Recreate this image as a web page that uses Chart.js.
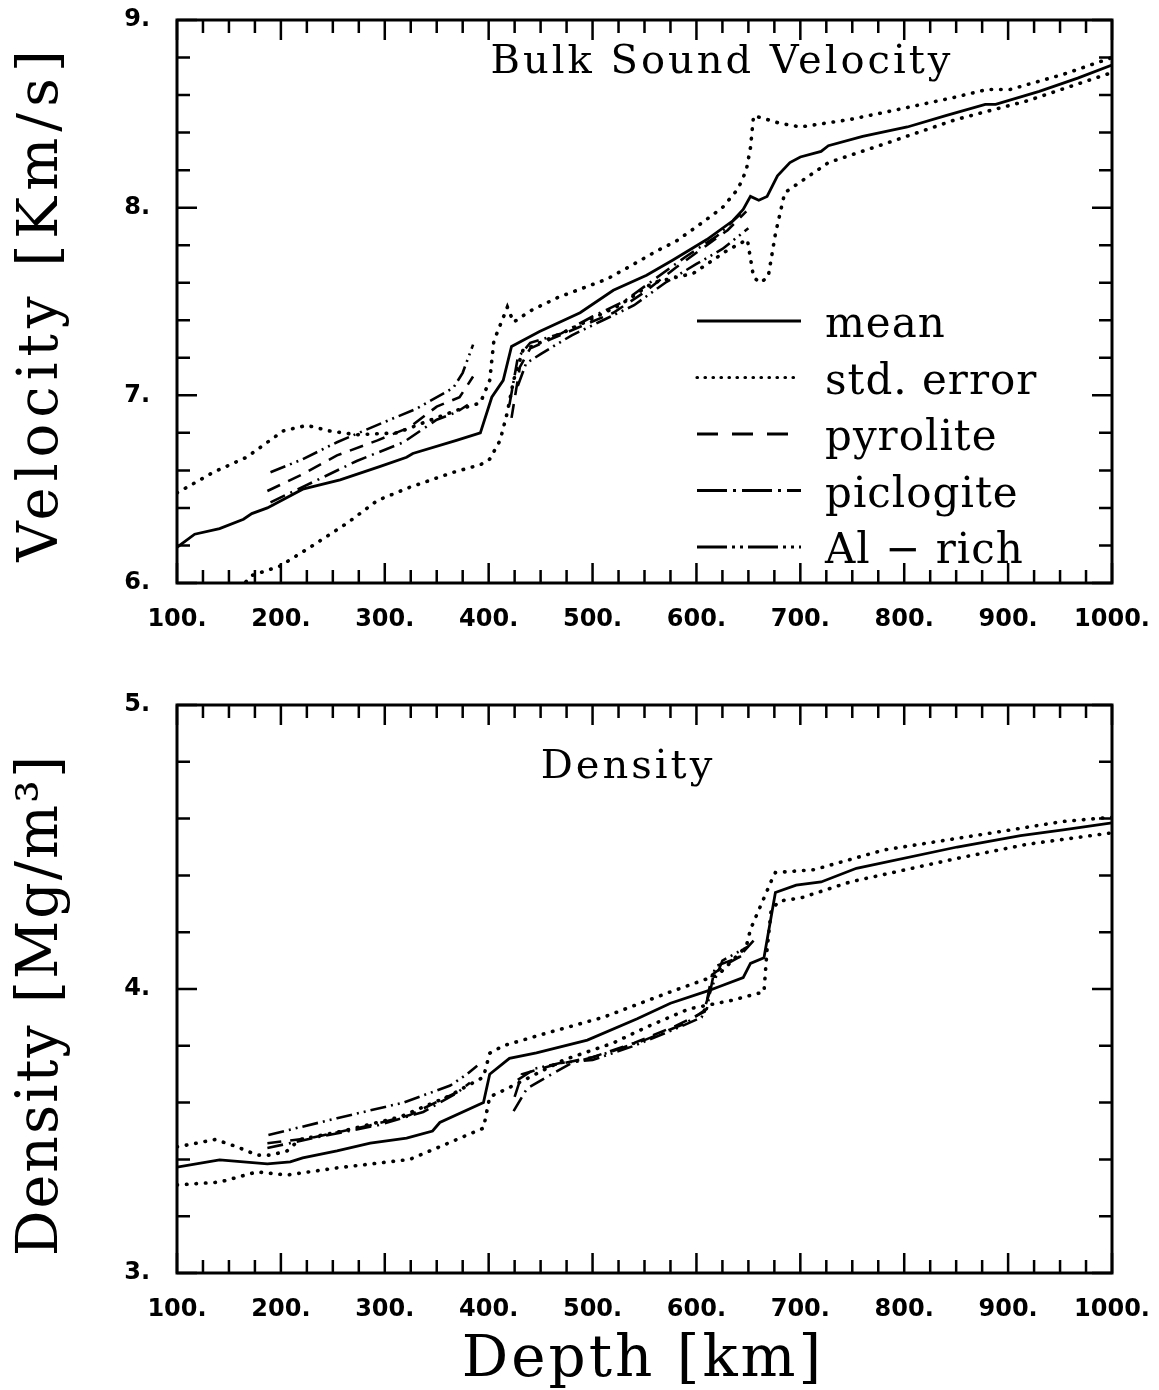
<!DOCTYPE html>
<html>
<head>
<meta charset="utf-8">
<title>Bulk sound velocity and density</title>
<script src="https://cdn.jsdelivr.net/npm/chart.js@4.4.1/dist/chart.umd.min.js"></script>
<style>
    body { margin: 0; background: #fff; }
    #wrap { position: relative; width: 1159px; height: 1390px; }
    canvas { position: absolute; left: 0; }
</style>
</head>
<body>
<div id="wrap">
    <canvas id="velocity-chart" width="1159" height="690" style="top:0"></canvas>
    <canvas id="density-chart" width="1159" height="700" style="top:690px"></canvas>
</div>
<script>
// ---- tick labels ----
const depthTicks = [100, 200, 300, 400, 500, 600, 700, 800, 900, 1000];
const velocityTicks = [6, 7, 8, 9];
const densityTicks = [3, 4, 5];
const depthMinorStep = 25;
const valueMinorStep = 0.2;

// ---- bulk sound velocity [km/s] vs depth [km] ----
const velMeanDepth = [100, 117, 141, 164, 172, 187, 221, 257, 295, 321, 327, 369, 392, 403, 414, 422, 449, 488, 520, 552, 577, 610, 635, 645, 652, 660, 668, 678, 690, 700, 720, 727, 760, 803, 840, 878, 888, 930, 967, 1000];
const velMean      = [6.19, 6.26, 6.29, 6.34, 6.37, 6.40, 6.50, 6.55, 6.62, 6.67, 6.69, 6.76, 6.80, 6.99, 7.08, 7.26, 7.34, 7.44, 7.56, 7.64, 7.72, 7.83, 7.93, 7.99, 8.06, 8.04, 8.06, 8.17, 8.24, 8.27, 8.30, 8.33, 8.38, 8.43, 8.49, 8.55, 8.55, 8.62, 8.69, 8.76];

const velUpperDepth = [100, 135, 167, 202, 225, 247, 273, 312, 340, 369, 392, 401, 405, 418, 424, 440, 466, 490, 514, 540, 562, 580, 603, 625, 640, 648, 652, 655, 668, 680, 700, 748, 800, 850, 880, 902, 953, 1000];
const velUpper      = [6.48, 6.59, 6.67, 6.81, 6.84, 6.81, 6.79, 6.80, 6.86, 6.92, 6.96, 7.08, 7.29, 7.47, 7.39, 7.45, 7.52, 7.57, 7.62, 7.70, 7.77, 7.82, 7.91, 8.00, 8.10, 8.20, 8.32, 8.49, 8.47, 8.45, 8.43, 8.47, 8.53, 8.59, 8.63, 8.63, 8.71, 8.80];

const velLowerDepth = [160, 172, 199, 228, 264, 293, 324, 366, 392, 401, 411, 418, 424, 433, 478, 526, 558, 597, 629, 649, 655, 661, 669, 676, 685, 706, 727, 781, 850, 919, 1000];
const velLower      = [5.97, 6.04, 6.09, 6.19, 6.32, 6.44, 6.51, 6.59, 6.63, 6.66, 6.76, 6.91, 7.08, 7.24, 7.35, 7.48, 7.60, 7.65, 7.77, 7.83, 7.63, 7.60, 7.63, 7.86, 8.08, 8.16, 8.24, 8.34, 8.47, 8.57, 8.72];

const velPyroliteDepth = [187, 221, 254, 293, 324, 350, 372, 385, 400, 422, 430, 440, 460, 490, 520, 550, 580, 610, 630, 648];
const velPyrolite      = [6.49, 6.58, 6.68, 6.76, 6.83, 6.94, 6.99, 7.10, null, 6.88, 7.15, 7.25, 7.30, 7.37, 7.44, 7.55, 7.68, 7.80, 7.88, 7.98];

const velPiclogiteDepth = [190, 228, 273, 318, 350, 369, 380, 400, 420, 428, 440, 470, 500, 530, 560, 590, 620, 645];
const velPiclogite      = [6.43, 6.53, 6.65, 6.75, 6.87, 6.91, 6.95, null, 6.95, 7.20, 7.28, 7.33, 7.42, 7.50, 7.62, 7.74, 7.85, 7.98];

const velAlRichDepth = [190, 221, 254, 292, 331, 366, 375, 385, 400, 428, 436, 450, 480, 510, 540, 570, 600, 625, 650];
const velAlRich      = [6.59, 6.66, 6.75, 6.84, 6.93, 7.04, 7.12, 7.27, null, 7.05, 7.17, 7.22, 7.32, 7.40, 7.48, 7.60, 7.70, 7.78, 7.89];

// ---- density [Mg/m^3] vs depth [km] ----
const denMeanDepth = [100, 141, 187, 209, 221, 254, 286, 321, 346, 353, 395, 401, 420, 446, 495, 543, 575, 613, 621, 645, 652, 665, 676, 696, 720, 754, 851, 912, 953, 1000];
const denMean      = [3.373, 3.398, 3.384, 3.391, 3.405, 3.43, 3.457, 3.475, 3.50, 3.53, 3.60, 3.70, 3.756, 3.775, 3.82, 3.895, 3.95, 3.996, 4.007, 4.04, 4.09, 4.11, 4.34, 4.366, 4.377, 4.425, 4.50, 4.54, 4.56, 4.585];

const denUpperDepth = [100, 137, 158, 177, 190, 206, 218, 260, 315, 360, 395, 401, 414, 456, 510, 575, 621, 648, 652, 672, 676, 713, 781, 885, 953, 1000];
const denUpper      = [3.444, 3.47, 3.444, 3.415, 3.415, 3.43, 3.47, 3.50, 3.55, 3.62, 3.69, 3.774, 3.80, 3.845, 3.90, 3.99, 4.05, 4.15, 4.21, 4.38, 4.41, 4.42, 4.49, 4.55, 4.59, 4.605];

const denLowerDepth = [100, 141, 177, 206, 254, 324, 350, 395, 401, 421, 472, 520, 552, 593, 634, 665, 668, 672, 680, 700, 748, 851, 919, 1000];
const denLower      = [3.31, 3.32, 3.356, 3.345, 3.37, 3.40, 3.44, 3.51, 3.62, 3.655, 3.75, 3.81, 3.866, 3.93, 3.96, 3.99, 4.14, 4.28, 4.31, 4.32, 4.377, 4.46, 4.51, 4.55];

const denPyroliteDepth = [187, 228, 286, 324, 360, 375, 400, 425, 432, 460, 500, 540, 580, 608, 615, 630, 650];
const denPyrolite      = [3.457, 3.475, 3.52, 3.556, 3.62, 3.645, null, 3.62, 3.70, 3.73, 3.76, 3.81, 3.87, 3.92, 4.05, 4.09, 4.13];

const denPiclogiteDepth = [187, 231, 293, 337, 369, 382, 400, 424, 437, 456, 480, 510, 550, 590, 610, 618, 640, 655];
const denPiclogite      = [3.44, 3.475, 3.52, 3.567, 3.633, 3.67, null, 3.57, 3.65, 3.69, 3.74, 3.77, 3.82, 3.88, 3.93, 4.08, 4.11, 4.17];

const denAlRichDepth = [188, 254, 318, 363, 379, 389, 400, 428, 445, 470, 500, 540, 580, 605, 612, 625, 650];
const denAlRich      = [3.486, 3.545, 3.60, 3.66, 3.70, 3.73, null, 3.68, 3.72, 3.74, 3.75, 3.80, 3.86, 3.90, 3.98, 4.10, 4.15];

// ---- line styles for the curves ----
const lineStyles = {
    mean:      { borderWidth: 2.8, borderDash: [] },
    stdError:  { borderWidth: 3.6, borderDash: [0.5, 9], borderCapStyle: 'round' },
    pyrolite:  { borderWidth: 2.6, borderDash: [14, 9] },
    piclogite: { borderWidth: 2.6, borderDash: [16, 6, 2, 6] },
    alRich:    { borderWidth: 2.6, borderDash: [16, 5, 2, 5, 2, 5] }
};

// legend samples are drawn with slightly longer dashes, as in the original
const legendRows = [
    { text: 'mean',         width: 2.8, dash: [],                     cap: 'butt',  end: 801 },
    { text: 'std. error',   width: 3.2, dash: [0.5, 7.5],             cap: 'round', end: 797 },
    { text: 'pyrolite',     width: 2.8, dash: [21, 14],               cap: 'butt',  end: 788 },
    { text: 'piclogite',    width: 2.8, dash: [30, 6, 3, 6],          cap: 'butt',  end: 801 },
    { text: 'Al \u2212 rich', width: 2.8, dash: [30, 5, 3, 5, 3, 5],  cap: 'butt',  end: 801 }
];

const SERIF = '"DejaVu Serif", "Liberation Serif", serif';
const TICK_FONT = { family: '"DejaVu Sans", sans-serif', size: 24, weight: 'bold' };

Chart.defaults.color = '#000';

/**
 * Turn two parallel arrays into {x, y} points for a linear x axis
 */
function toPoints(depths, values) {
    return depths.map((d, i) => ({ x: d, y: values[i] }));
}

function makeDataset(label, depths, values, style) {
    return Object.assign({
        label: label,
        data: toPoints(depths, values),
        borderColor: '#000',
        pointRadius: 0,
        tension: 0,
        fill: false,
        spanGaps: false
    }, style);
}

/**
 * Ticks every minor step, labelled only at the major values
 */
function stepTicks(step, majors) {
    return {
        afterBuildTicks(scale) {
            const ticks = [];
            for (let v = scale.min; v <= scale.max + step / 100; v += step) {
                ticks.push({ value: +v.toFixed(3) });
            }
            scale.ticks = ticks;
        },
        label(value) {
            return majors.includes(+value.toFixed(3)) ? value + '.' : '';
        }
    };
}

// Frame around the plot with inward tick marks on all four sides
const frameTicks = {
    id: 'frameTicks',
    afterDatasetsDraw(chart) {
        const { ctx, chartArea: { left, right, top, bottom }, scales: { x, y } } = chart;
        ctx.save();
        ctx.strokeStyle = '#000';
        ctx.lineWidth = 2.5;
        ctx.setLineDash([]);
        ctx.beginPath();
        x.ticks.forEach(t => {
            const px = x.getPixelForValue(t.value);
            const len = t.label ? 20 : 13;
            ctx.moveTo(px, bottom); ctx.lineTo(px, bottom - len);
            ctx.moveTo(px, top); ctx.lineTo(px, top + len);
        });
        y.ticks.forEach(t => {
            const py = y.getPixelForValue(t.value);
            const len = t.label ? 20 : 13;
            ctx.moveTo(left, py); ctx.lineTo(left + len, py);
            ctx.moveTo(right, py); ctx.lineTo(right - len, py);
        });
        ctx.stroke();
        ctx.lineWidth = 3;
        ctx.strokeRect(left, top, right - left, bottom - top);
        ctx.restore();
    }
};

// Axis titles, caption inside the plot and (optionally) the line-style legend
function panelText(opts) {
    return {
        id: 'panelText',
        afterDraw(chart) {
            const ctx = chart.ctx;
            ctx.save();
            ctx.fillStyle = '#000';

            // vertical axis title
            ctx.save();
            ctx.translate(opts.yTitle.x, opts.yTitle.y);
            ctx.rotate(-Math.PI / 2);
            ctx.textAlign = 'center';
            ctx.textBaseline = 'middle';
            ctx.letterSpacing = opts.yTitle.spacing + 'px';
            ctx.font = opts.yTitle.size + 'px ' + SERIF;
            ctx.fillText(opts.yTitle.text, 0, 0);
            ctx.restore();

            // horizontal axis title
            if (opts.xTitle) {
                ctx.textAlign = 'center';
                ctx.textBaseline = 'alphabetic';
                ctx.letterSpacing = opts.xTitle.spacing + 'px';
                ctx.font = opts.xTitle.size + 'px ' + SERIF;
                ctx.fillText(opts.xTitle.text, opts.xTitle.x, opts.xTitle.y);
            }

            // caption
            ctx.textAlign = 'center';
            ctx.textBaseline = 'alphabetic';
            ctx.letterSpacing = '3px';
            ctx.font = '40px ' + SERIF;
            ctx.fillText(opts.caption.text, opts.caption.x, opts.caption.y);

            if (opts.legend) {
                ctx.textAlign = 'left';
                ctx.letterSpacing = '1px';
                ctx.font = '42px ' + SERIF;
                legendRows.forEach((row, i) => {
                    const lineY = 321 + i * 56.5;
                    ctx.beginPath();
                    ctx.strokeStyle = '#000';
                    ctx.lineWidth = row.width;
                    ctx.lineCap = row.cap;
                    ctx.setLineDash(row.dash);
                    ctx.moveTo(697, lineY);
                    ctx.lineTo(row.end, lineY);
                    ctx.stroke();
                    ctx.fillText(row.text, 825, lineY + 16);
                });
            }
            ctx.restore();
        }
    };
}

function buildPanel(canvasId, datasets, yMin, yMax, yMajors, topPad, xHeight, textOpts) {
    const xt = stepTicks(depthMinorStep, depthTicks);
    const yt = stepTicks(valueMinorStep, yMajors);
    return new Chart(document.getElementById(canvasId), {
        type: 'line',
        data: { datasets: datasets },
        options: {
            responsive: false,
            animation: false,
            layout: { padding: { left: 0, right: 47, top: topPad, bottom: 0 } },
            plugins: { legend: { display: false }, tooltip: { enabled: false } },
            scales: {
                x: {
                    type: 'linear',
                    min: 100,
                    max: 1000,
                    border: { display: false },
                    grid: { display: false, drawTicks: false },
                    afterBuildTicks: xt.afterBuildTicks,
                    afterFit(scale) {
                        scale.height = xHeight;
                        scale.paddingLeft = 0;
                        scale.paddingRight = 0;
                    },
                    ticks: {
                        autoSkip: false,
                        maxRotation: 0,
                        minRotation: 0,
                        padding: 22,
                        font: TICK_FONT,
                        callback: xt.label
                    }
                },
                y: {
                    type: 'linear',
                    min: yMin,
                    max: yMax,
                    border: { display: false },
                    grid: { display: false, drawTicks: false },
                    afterBuildTicks: yt.afterBuildTicks,
                    afterFit(scale) {
                        scale.width = 177;
                        scale.paddingTop = 0;
                        scale.paddingBottom = 0;
                    },
                    ticks: {
                        autoSkip: false,
                        padding: 27,
                        font: TICK_FONT,
                        callback: yt.label
                    }
                }
            }
        },
        plugins: [frameTicks, panelText(textOpts)]
    });
}

buildPanel('velocity-chart', [
    makeDataset('mean', velMeanDepth, velMean, lineStyles.mean),
    makeDataset('std. error', velUpperDepth, velUpper, lineStyles.stdError),
    makeDataset('std. error (low)', velLowerDepth, velLower, lineStyles.stdError),
    makeDataset('pyrolite', velPyroliteDepth, velPyrolite, lineStyles.pyrolite),
    makeDataset('piclogite', velPiclogiteDepth, velPiclogite, lineStyles.piclogite),
    makeDataset('Al - rich', velAlRichDepth, velAlRich, lineStyles.alRich)
], 6, 9, velocityTicks, 20, 107, {
    yTitle: { text: 'Velocity [Km/s]', x: 42, y: 303, size: 56, spacing: 6 },
    caption: { text: 'Bulk Sound Velocity', x: 722, y: 73 },
    legend: true
});

buildPanel('density-chart', [
    makeDataset('mean', denMeanDepth, denMean, lineStyles.mean),
    makeDataset('std. error', denUpperDepth, denUpper, lineStyles.stdError),
    makeDataset('std. error (low)', denLowerDepth, denLower, lineStyles.stdError),
    makeDataset('pyrolite', denPyroliteDepth, denPyrolite, lineStyles.pyrolite),
    makeDataset('piclogite', denPiclogiteDepth, denPiclogite, lineStyles.piclogite),
    makeDataset('Al - rich', denAlRichDepth, denAlRich, lineStyles.alRich)
], 3, 5, densityTicks, 15, 117, {
    yTitle: { text: 'Density [Mg/m\u00b3]', x: 42, y: 315, size: 57, spacing: 2 },
    xTitle: { text: 'Depth [km]', x: 643, y: 686, size: 58, spacing: 3 },
    caption: { text: 'Density', x: 628, y: 88 },
    legend: false
});
</script>
</body>
</html>
